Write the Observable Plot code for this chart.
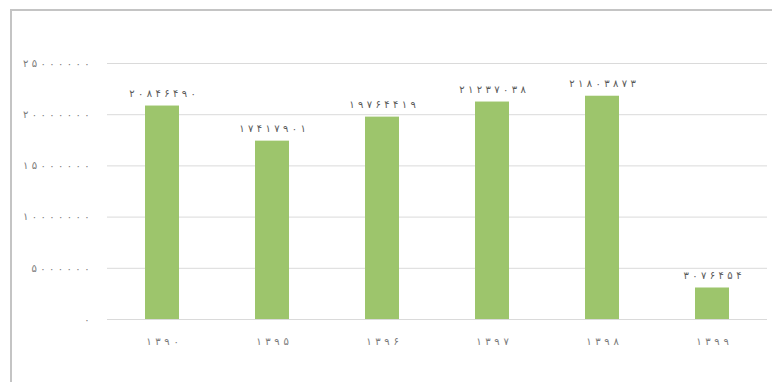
<!DOCTYPE html>
<html>
<head>
<meta charset="utf-8">
<script src="https://cdn.jsdelivr.net/npm/d3@7"></script>
<script src="https://cdn.jsdelivr.net/npm/@observablehq/plot@0.6"></script>
<style>
  html, body { margin: 0; padding: 0; background: #fff; width: 772px; height: 382px; overflow: hidden; }
  #wrap { position: relative; width: 772px; height: 382px; }
  #frame { position: absolute; left: 10px; top: 9px; width: 800px; height: 400px; border-left: 2px solid #c4c4c4; border-top: 2px solid #c4c4c4; box-sizing: border-box; }
  #chart { position: absolute; left: 0; top: 0; }
</style>
</head>
<body>
<div id="wrap"><div id="frame"></div><div id="chart"></div></div>
<script>
const years = ["۱۳۹۰", "۱۳۹۵", "۱۳۹۶", "۱۳۹۷", "۱۳۹۸", "۱۳۹۹"];
const values = [20846490, 17417901, 19764419, 21237038, 21803873, 3076454];
const yTicks = [0, 5000000, 10000000, 15000000, 20000000, 25000000];

const faDigits = "۰۱۲۳۴۵۶۷۸۹";
const toFa = v => String(v).replace(/\d/g, d => faDigits[+d]);

const data = years.map((year, i) => ({year, value: values[i]}));

const font = "DejaVu Sans, sans-serif";

const chart = Plot.plot({
  width: 772,
  height: 382,
  marginTop: 63,
  marginBottom: 63,
  marginLeft: 107,
  marginRight: 5,
  style: {fontFamily: font, fontSize: "10px", background: "transparent"},
  x: {domain: years, paddingInner: 0.69, paddingOuter: 0.345, axis: null, label: null},
  y: {domain: [0, 25000000], axis: null, label: null},
  marks: [
    Plot.ruleY(yTicks, {stroke: "#dadada", strokeWidth: 1}),
    Plot.barY(data, {x: "year", y: "value", fill: "#9dc56c"}),
    Plot.text(data, {x: "year", y: "value", text: d => toFa(d.value), dy: -12, fill: "#595959", fontSize: 10}),
    Plot.axisY(yTicks, {tickFormat: toFa, tickSize: 0, tickPadding: 18, fill: "#7a7a7a", fontSize: 10, label: null}),
    Plot.axisX({tickSize: 0, tickPadding: 18, fill: "#7a7a7a", fontSize: 10, label: null})
  ]
});
// widen digit spacing (Excel-like Persian digits)
chart.querySelectorAll("text").forEach(t => {
  const s = t.textContent.trim();
  const n = [...s].length;
  if (n > 1) {
    t.setAttribute("textLength", (8.5 * n - 1.5).toFixed(1));
    t.setAttribute("lengthAdjust", "spacing");
  }
});
document.getElementById("chart").appendChild(chart);
</script>
</body>
</html>
